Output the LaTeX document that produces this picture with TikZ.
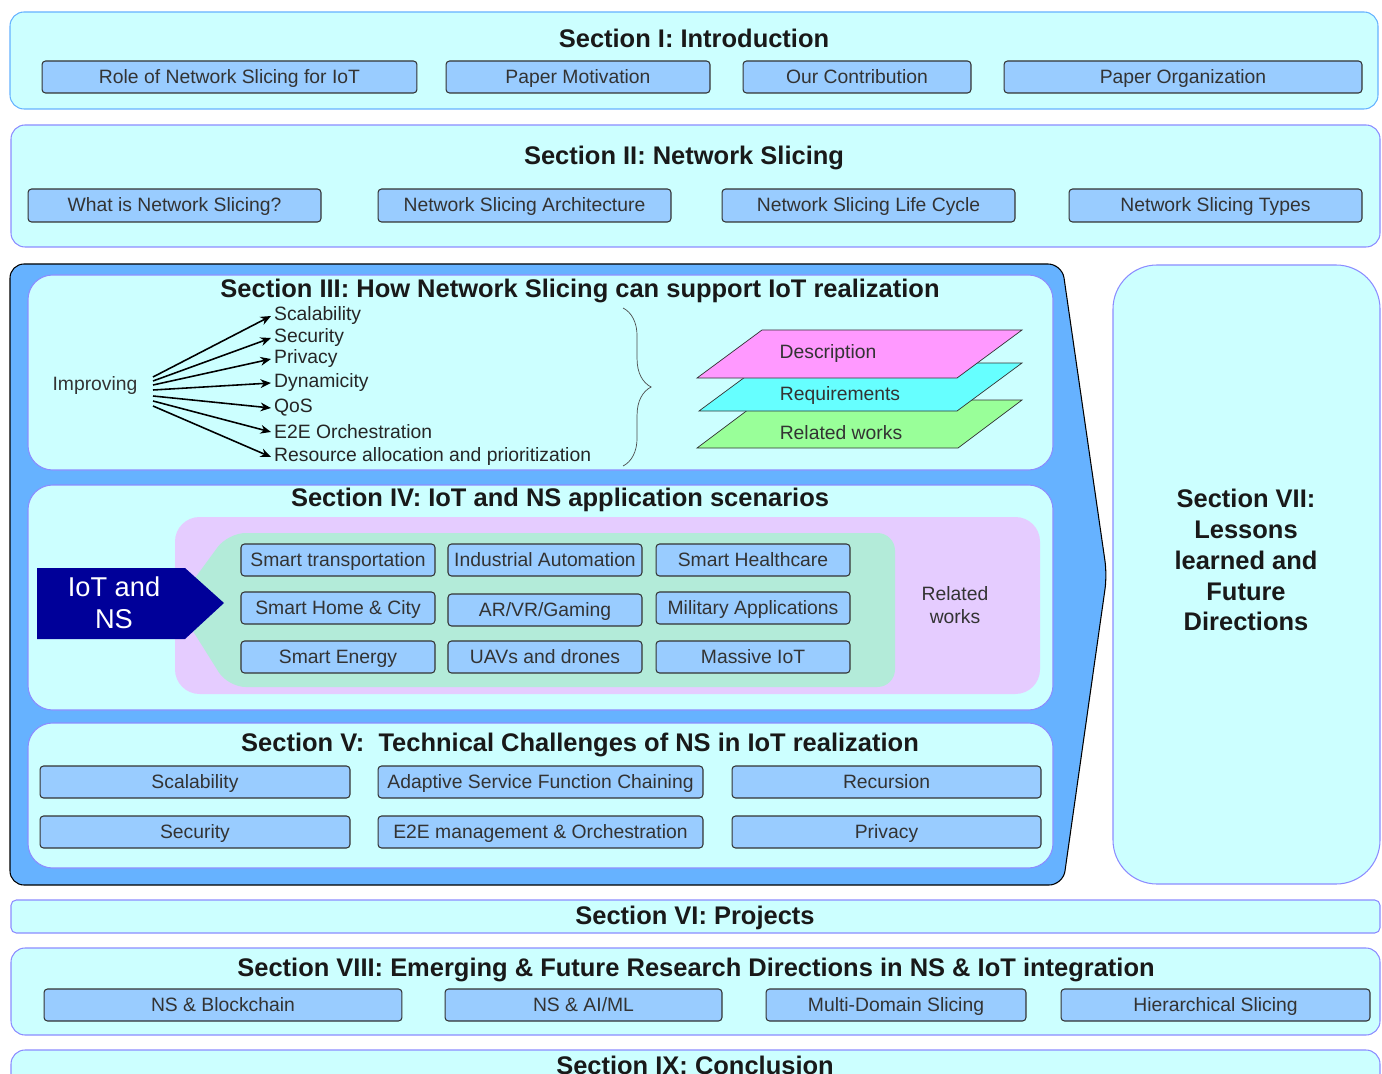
\documentclass[tikz,border=0pt]{standalone}
\usepackage{fontspec}
\setmainfont{Liberation Sans}
\usepackage{tikz}
\usetikzlibrary{arrows.meta,fit,decorations.pathreplacing}

\definecolor{seccyan}{HTML}{CCFFFF}
\definecolor{secline}{HTML}{8C8CFF}
\definecolor{introline}{HTML}{66B2FF}
\definecolor{subblue}{HTML}{99CCFF}
\definecolor{bigblue}{HTML}{66B2FF}
\definecolor{lilac}{HTML}{E5CCFF}
\definecolor{mint}{HTML}{B3EBD9}
\definecolor{navyblue}{HTML}{000099}
\definecolor{pinklayer}{HTML}{FF99FF}
\definecolor{cyanlayer}{HTML}{66FFFF}
\definecolor{greenlayer}{HTML}{99FF99}

\begin{document}
\begin{tikzpicture}[x=0.02cm, y=-0.02cm, ->, >={Stealth[length=6pt, width=5pt]}, semithick,
	sec/.style={draw=secline, fill=seccyan, inner sep=0pt, rounded corners=8pt},
	subbox/.style={draw=black!80, fill=subblue, inner sep=0pt, minimum height=0.64cm, rounded corners=2pt, text height=8pt, text depth=1pt, font=\fontsize{11}{13}\selectfont, text=black!80},
	sectitle/.style={font=\fontsize{14.5}{17.5}\selectfont\bfseries, text=black!90, align=center},
	impitem/.style={anchor=west, inner sep=1.5pt, font=\fontsize{11}{13}\selectfont, text=black!85},
	plain/.style={font=\fontsize{11}{13}\selectfont, text=black!80, align=center},
	layer/.style={draw=black!80, thin}]
	  		\useasboundingbox (0,0) rectangle (1382,1074);
	  		\clip (0,0) rectangle (1382,1074);
	  		
	  		% Section I
	  		\node[sec, draw=introline, fit={(10,12) (1378,109)}]	(sec1)	{};
	  		\node[sectitle]	(sec1t)	at (694,38)	{Section I: Introduction};
	  		\node[subbox, minimum width=7.5cm]	(intro1)	at (229.5,77)	{Role of Network Slicing for IoT};
	  		\node[subbox, minimum width=5.28cm]	(intro2)	at (578,77)		{Paper Motivation};
	  		\node[subbox, minimum width=4.56cm]	(intro3)	at (857,77)		{Our Contribution};
	  		\node[subbox, minimum width=7.16cm]	(intro4)	at (1183,77)	{Paper Organization};
	  		
	  		% Section II
	  		\node[sec, fit={(11,125) (1380,247)}]	(sec2)	{};
	  		\node[sectitle]	(sec2t)	at (684,158)	{Section II: Network Slicing};
	  		\node[subbox, minimum width=5.86cm, minimum height=0.66cm]	(ns1)	at (174.5,205.5)	{What is Network Slicing?};
	  		\node[subbox, minimum width=5.86cm, minimum height=0.66cm]	(ns2)	at (524.5,205.5)	{Network Slicing Architecture};
	  		\node[subbox, minimum width=5.86cm, minimum height=0.66cm]	(ns3)	at (868.5,205.5)	{Network Slicing Life Cycle};
	  		\node[subbox, minimum width=5.86cm, minimum height=0.66cm]	(ns4)	at (1215.5,205.5)	{Network Slicing Types};
	  		
	  		% big arrow round III, IV, V
	  		\draw[-, fill=bigblue, draw=black, rounded corners=8pt]
	  			(10,575) -- (10,264) -- (1062,264) -- (1107,575) -- (1063,885) -- (10,885) -- cycle;
	  		
	  		% Section III
	  		\node[sec, rounded corners=14pt, fit={(28,275) (1053,470)}]	(sec3)	{};
	  		\node[sectitle]	(sec3t)	at (580,291)	{Section III: How Network Slicing can support IoT realization};
	  		\node[plain]	(improving)	at (95,386)	{Improving};
	  		\node[impitem]	(imp1)	at (271,316)	{Scalability};
	  		\node[impitem]	(imp2)	at (271,338)	{Security};
	  		\node[impitem]	(imp3)	at (271,359)	{Privacy};
	  		\node[impitem]	(imp4)	at (271,383)	{Dynamicity};
	  		\node[impitem]	(imp5)	at (271,408)	{QoS};
	  		\node[impitem]	(imp6)	at (271,432)	{E2E Orchestration};
	  		\node[impitem]	(imp7)	at (271,457)	{Resource allocation and prioritization};
	  		\coordinate	(fan1)	at (153,377);
	  		\coordinate	(fan2)	at (153,381);
	  		\coordinate	(fan3)	at (153,385);
	  		\coordinate	(fan4)	at (153,390);
	  		\coordinate	(fan5)	at (153,396);
	  		\coordinate	(fan6)	at (153,401);
	  		\coordinate	(fan7)	at (153,406);
	  		\path[line width=0.9pt]
	  				(fan1)	edge	(imp1.west)
	  				(fan2)	edge	(imp2.west)
	  				(fan3)	edge	(imp3.west)
	  				(fan4)	edge	(imp4.west)
	  				(fan5)	edge	(imp5.west)
	  				(fan6)	edge	(imp6.west)
	  				(fan7)	edge	(imp7.west);
	  		\draw[-, draw=black!70, thin, decorate, decoration={brace, amplitude=16pt}] (623,308) -- (623,466);
	  		\draw[-, layer, fill=greenlayer]	(697,448) -- (761,400) -- (1022,400) -- (958,448) -- cycle;
	  		\draw[-, layer, fill=cyanlayer]		(699,411) -- (764,363) -- (1022,363) -- (957,411) -- cycle;
	  		\draw[-, layer, fill=pinklayer]		(697,378) -- (762,330) -- (1022,330) -- (957,378) -- cycle;
	  		\node[plain]	(desc)	at (828,354)	{Description};
	  		\node[plain]	(req)	at (840,396)	{Requirements};
	  		\node[plain]	(rel)	at (841,433)	{Related works};
	  		
	  		% Section IV
	  		\node[sec, rounded corners=14pt, fit={(28,485) (1053,710)}]	(sec4)	{};
	  		\node[sectitle]	(sec4t)	at (560,500)	{Section IV: IoT and NS application scenarios};
	  		\node[fill=lilac, inner sep=0pt, rounded corners=14pt, fit={(175,517) (1040,694)}]	(relarea)	{};
	  		\fill[mint, rounded corners=10pt] (228,533) -- (895,533) -- (895,687) -- (228,687) -- (176,604) -- cycle;
	  		\fill[navyblue] (37,568) -- (185,568) -- (224,603) -- (185,639) -- (37,639) -- cycle;
	  		\node[font=\fontsize{15.5}{18}\selectfont, text=white, align=center]	(iotns)	at (114,603)	{IoT and\\NS};
	  		\node[plain]	(relworks)	at (955,605)	{Related\\works};
	  		\node[subbox, minimum width=3.88cm]	(app1)	at (338,560)	{Smart transportation};
	  		\node[subbox, minimum width=3.88cm]	(app2)	at (545,560)	{Industrial Automation};
	  		\node[subbox, minimum width=3.88cm]	(app3)	at (753,560)	{Smart Healthcare};
	  		\node[subbox, minimum width=3.88cm]	(app4)	at (338,608)	{Smart Home \& City};
	  		\node[subbox, minimum width=3.88cm]	(app5)	at (545,610)	{AR/VR/Gaming};
	  		\node[subbox, minimum width=3.88cm]	(app6)	at (753,608)	{Military Applications};
	  		\node[subbox, minimum width=3.88cm]	(app7)	at (338,657)	{Smart Energy};
	  		\node[subbox, minimum width=3.88cm]	(app8)	at (545,657)	{UAVs and drones};
	  		\node[subbox, minimum width=3.88cm]	(app9)	at (753,657)	{Massive IoT};
	  		
	  		% Section V
	  		\node[sec, rounded corners=14pt, fit={(28,723) (1053,868)}]	(sec5)	{};
	  		\node[sectitle]	(sec5t)	at (580,745)	{Section V:\ \ Technical Challenges of NS in IoT realization};
	  		\node[subbox, minimum width=6.2cm]	(ch1)	at (195,782)	{Scalability};
	  		\node[subbox, minimum width=6.5cm]	(ch2)	at (540.5,782)	{Adaptive Service Function Chaining};
	  		\node[subbox, minimum width=6.18cm]	(ch3)	at (886.5,782)	{Recursion};
	  		\node[subbox, minimum width=6.2cm]	(ch4)	at (195,832)	{Security};
	  		\node[subbox, minimum width=6.5cm]	(ch5)	at (540.5,832)	{E2E management \& Orchestration};
	  		\node[subbox, minimum width=6.18cm]	(ch6)	at (886.5,832)	{Privacy};
	  		
	  		% Section VII
	  		\node[sec, rounded corners=25pt, fit={(1113,265) (1380,884)}]	(sec7)	{};
	  		\node[sectitle, font=\fontsize{14.5}{17.6}\selectfont\bfseries]	(sec7t)	at (1246,560)	{Section VII:\\Lessons\\learned and\\Future\\Directions};
	  		
	  		% Section VI
	  		\node[sec, rounded corners=3pt, fit={(11,900) (1380,933)}]	(sec6)	{};
	  		\node[sectitle]	(sec6t)	at (695,918)	{Section VI: Projects};
	  		
	  		% Section VIII
	  		\node[sec, fit={(11,948) (1380,1035)}]	(sec8)	{};
	  		\node[sectitle]	(sec8t)	at (696,970)	{Section VIII: Emerging \& Future Research Directions in NS \& IoT integration};
	  		\node[subbox, minimum width=7.16cm]	(fut1)	at (223,1005)		{NS \& Blockchain};
	  		\node[subbox, minimum width=5.54cm]	(fut2)	at (583.5,1005)		{NS \& AI/ML};
	  		\node[subbox, minimum width=5.2cm]	(fut3)	at (896,1005)		{Multi-Domain Slicing};
	  		\node[subbox, minimum width=6.18cm]	(fut4)	at (1215.5,1005)	{Hierarchical Slicing};
	  		
	  		% Section IX
	  		\node[sec, fit={(11,1050) (1380,1120)}]	(sec9)	{};
	  		\node[sectitle]	(sec9t)	at (695,1065)	{Section IX: Conclusion};
\end{tikzpicture}
\end{document}
